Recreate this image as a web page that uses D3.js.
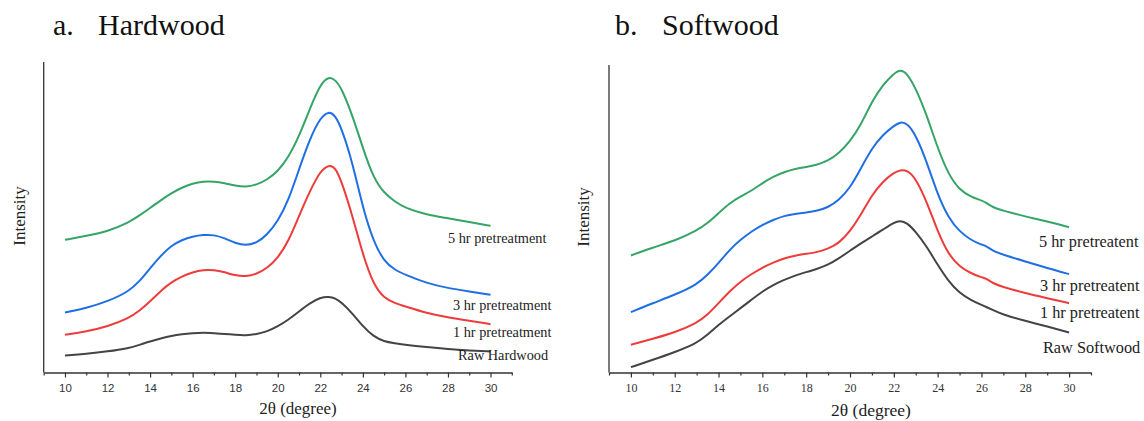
<!DOCTYPE html>
<html lang="en">
<head>
<meta charset="utf-8">
<title>XRD patterns - hardwood and softwood</title>
<script src="https://cdn.jsdelivr.net/npm/d3@7"></script>
<style>
  body { margin: 0; background: #fff; }
  svg { display: block; }
</style>
</head>
<body>
<script>
// 2theta grid for each panel
var hwTheta = [10, 11, 12, 13, 13.5, 14, 14.5, 15, 15.5, 16, 16.5, 17, 17.5, 18, 18.5, 19, 19.5, 20,
               20.5, 21, 21.5, 22, 22.4, 22.7, 23, 23.5, 24, 24.5, 25, 25.5, 26, 27, 28, 29, 30];
var swTheta = [10, 11, 12, 13, 13.5, 14, 14.5, 15, 15.5, 16, 16.5, 17, 17.5, 18, 18.5, 19, 19.5, 20,
               20.5, 21, 21.5, 22, 22.3, 22.6, 23, 23.5, 24, 24.5, 25, 25.5, 26, 26.2, 26.5, 27, 28, 29, 30];

// Hardwood intensities (a.u., stacked as plotted)
var hwRaw  = [51, 56, 63, 73, 83, 93, 102, 110, 115, 118, 120, 118, 116, 113, 111, 115, 123, 138,
              158, 183, 208, 225, 228, 223, 210, 178, 138, 108, 93, 88, 83, 76, 70, 66, 63];
var hw1hr  = [113, 123, 138, 163, 185, 213, 245, 271, 288, 301, 308, 308, 301, 291, 288, 295, 313, 343,
              393, 470, 543, 605, 623, 616, 573, 473, 353, 263, 223, 208, 198, 178, 165, 155, 145];
var hw3hr  = [180, 193, 213, 243, 273, 313, 350, 381, 398, 408, 413, 413, 403, 388, 381, 388, 413, 453,
              515, 610, 700, 765, 784, 771, 733, 633, 493, 393, 333, 308, 293, 268, 253, 243, 233];
var hw5hr  = [398, 410, 423, 450, 471, 493, 517, 538, 555, 567, 573, 573, 568, 560, 556, 563, 578, 603,
              645, 708, 790, 865, 888, 878, 853, 773, 673, 583, 538, 513, 493, 473, 463, 451, 440];

// Softwood intensities (a.u., stacked as plotted)
var swRaw  = [16, 38, 61, 88, 113, 143, 168, 193, 218, 243, 263, 278, 291, 301, 311, 323, 343, 365,
              388, 408, 428, 450, 456, 449, 423, 378, 323, 273, 238, 218, 203, 197, 188, 173, 155, 138, 120];
var sw1hr  = [83, 101, 120, 148, 173, 208, 243, 273, 295, 315, 330, 343, 351, 356, 361, 371, 388, 423,
              473, 533, 573, 600, 607, 607, 583, 513, 423, 353, 318, 298, 285, 283, 268, 256, 238, 223, 208];
var sw3hr  = [181, 208, 233, 263, 293, 328, 368, 398, 423, 443, 458, 470, 476, 480, 485, 495, 518, 553,
              613, 673, 713, 740, 752, 748, 713, 633, 533, 463, 423, 398, 383, 381, 365, 353, 333, 313, 295];
var sw5hr  = [351, 375, 395, 425, 448, 478, 508, 528, 545, 568, 588, 601, 611, 616, 623, 635, 658, 693,
              743, 813, 863, 897, 909, 898, 853, 773, 673, 593, 548, 528, 516, 510, 496, 485, 468, 453, 436];

var hwLabels = ["Raw Hardwood", "1 hr pretreatment", "3 hr pretreatment", "5 hr pretreatment"];
var swLabels = ["Raw Softwood", "1 hr pretreatent", "3 hr pretreatent", "5 hr pretreatent"];
var majorTicks = [10, 12, 14, 16, 18, 20, 22, 24, 26, 28, 30];
var minorTicks = [9, 11, 13, 15, 17, 19, 21, 23, 25, 27, 29, 31];

var colors = ["#444444", "#ee3b3b", "#1f6fe3", "#35a466"];

var w = 1144, h = 421;
var svg = d3.select("body").append("svg")
  .attr("width", w)
  .attr("height", h);

var serif = "'Liberation Serif', 'Times New Roman', Times, serif";

var panels = [
  {
    letter: "a.", name: "Hardwood", letterX: 53, nameX: 98,
    theta: hwTheta, series: [hwRaw, hw1hr, hw3hr, hw5hr], labels: hwLabels,
    xRange: [43.7, 511.8], axisTop: 62,
    tickFont: "'Liberation Sans', Arial, sans-serif", tickSize: 11.5,
    titleX: 298, titleY: 414, titleSize: 17,
    ylabX: 24.5, ylabY: 216,
    labelSize: 14.3,
    labelPos: [[458, 360], [453, 337], [453, 310], [448, 243]]
  },
  {
    letter: "b.", name: "Softwood", letterX: 615, nameX: 662,
    theta: swTheta, series: [swRaw, sw1hr, sw3hr, sw5hr], labels: swLabels,
    xRange: [609, 1091], axisTop: 65,
    tickFont: serif, tickSize: 12,
    titleX: 871, titleY: 416, titleSize: 17.5,
    ylabX: 589, ylabY: 217,
    labelSize: 16.3,
    labelPos: [[1043, 353], [1040, 318], [1040, 291], [1039, 247]]
  }
];

panels.forEach(function(p) {
  var x = d3.scaleLinear().domain([9, 31]).range(p.xRange);
  var y = d3.scaleLinear().domain([0, 926]).range([372.5, 63.8]);
  var g = svg.append("g");

  // panel title
  g.append("text")
    .attr("x", p.letterX).attr("y", 35)
    .attr("font-family", serif).attr("font-size", "30px")
    .attr("fill", "#111")
    .text(p.letter);
  g.append("text")
    .attr("x", p.nameX).attr("y", 35)
    .attr("font-family", serif).attr("font-size", "30px")
    .attr("fill", "#111")
    .text(p.name);

  // curves
  var line = d3.line()
    .x(function(d) { return x(d[0]); })
    .y(function(d) { return y(d[1]); })
    .curve(d3.curveBasis);

  p.series.forEach(function(s, i) {
    var pts = p.theta.map(function(t, j) { return [t, s[j]]; });
    g.append("path")
      .datum(pts)
      .attr("fill", "none")
      .attr("stroke", colors[i])
      .attr("stroke-width", 2)
      .attr("stroke-linejoin", "round")
      .attr("d", line);
  });

  // series labels
  g.selectAll("text.lab")
    .data(p.labels)
    .enter()
    .append("text")
    .attr("class", "lab")
    .attr("x", function(d, i) { return p.labelPos[i][0]; })
    .attr("y", function(d, i) { return p.labelPos[i][1]; })
    .attr("font-family", serif)
    .attr("font-size", p.labelSize + "px")
    .attr("fill", "#222")
    .text(function(d) { return d; });

  // x axis, major then minor ticks
  var axisY = y(0);
  var xAxis = g.append("g")
    .attr("transform", "translate(0," + axisY + ")")
    .call(d3.axisBottom(x).tickValues(majorTicks).tickSize(5).tickSizeOuter(0).tickPadding(6)
      .tickFormat(d3.format("d")));
  xAxis.select(".domain").attr("stroke", "#333").attr("stroke-width", 1.3);
  xAxis.selectAll(".tick line").attr("stroke", "#333").attr("stroke-width", 1.2);
  xAxis.selectAll("text")
    .attr("font-family", p.tickFont)
    .attr("font-size", p.tickSize + "px")
    .attr("fill", "#333");

  var minor = g.append("g")
    .attr("transform", "translate(0," + axisY + ")")
    .call(d3.axisBottom(x).tickValues(minorTicks).tickSize(3).tickSizeOuter(0).tickFormat(""));
  minor.select(".domain").remove();
  minor.selectAll(".tick line").attr("stroke", "#333").attr("stroke-width", 1.2);

  // y axis line (no ticks)
  g.append("line")
    .attr("x1", x(9)).attr("x2", x(9))
    .attr("y1", p.axisTop).attr("y2", axisY)
    .attr("stroke", "#333").attr("stroke-width", 1.3);

  // axis titles
  g.append("text")
    .attr("x", p.titleX).attr("y", p.titleY)
    .attr("text-anchor", "middle")
    .style("font-family", serif).style("font-size", p.titleSize + "px")
    .attr("fill", "#222")
    .text("2\u03b8 (degree)");

  g.append("text")
    .attr("transform", "translate(" + p.ylabX + "," + p.ylabY + ") rotate(-90)")
    .attr("text-anchor", "middle")
    .style("font-family", serif).style("font-size", "17px")
    .attr("fill", "#222")
    .text("Intensity");
});
</script>
</body>
</html>
